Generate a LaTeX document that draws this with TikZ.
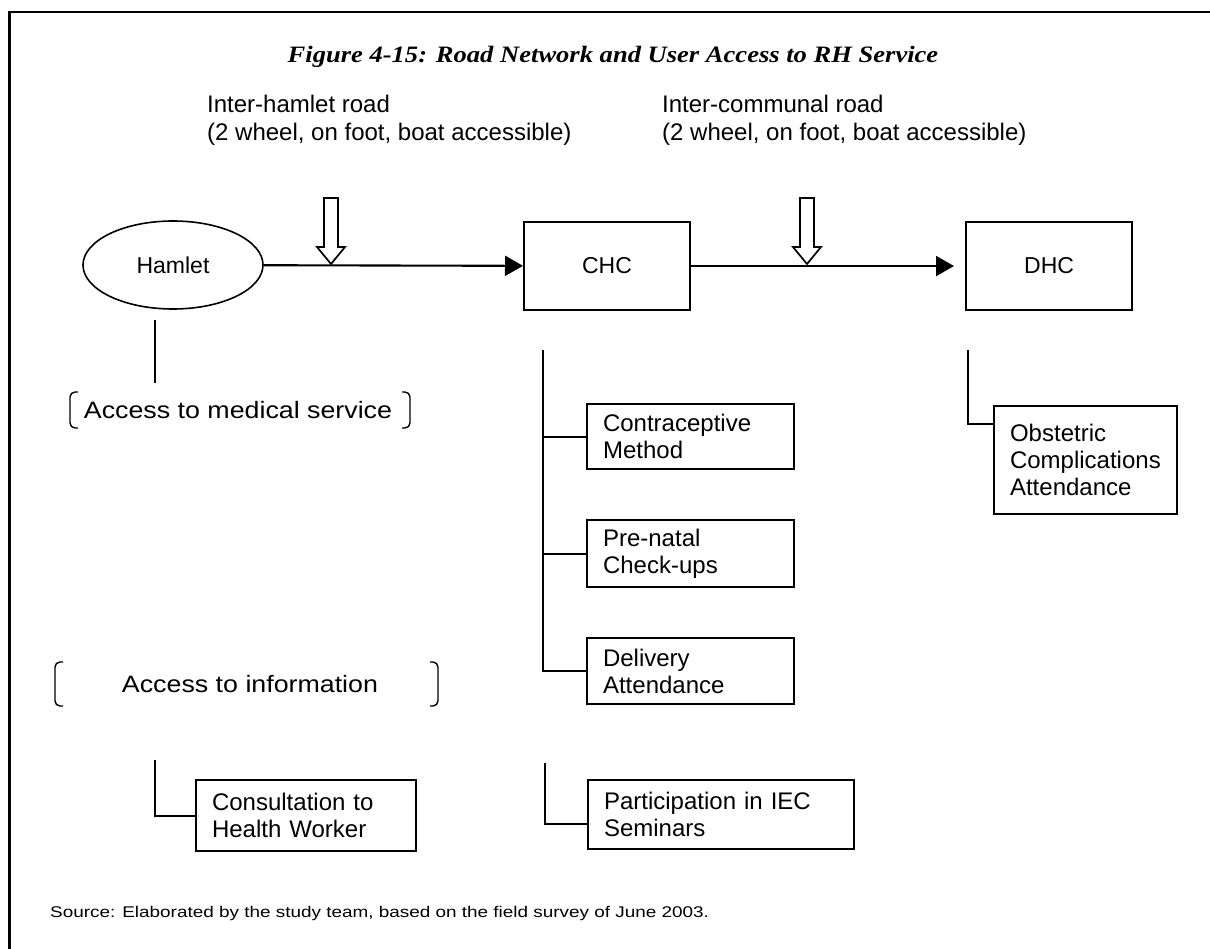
\documentclass[tikz,border=0pt]{standalone}
\usepackage{fontspec}
\setmainfont{Liberation Sans}
\newfontfamily\titlefont[FakeStretch=1.13]{Liberation Serif}
\newfontfamily\widefont[FakeStretch=1.13]{Liberation Sans}
\newfontfamily\srcfont[FakeStretch=1.22]{Liberation Sans}
\usetikzlibrary{arrows.meta,calc,shapes.geometric}
\tikzset{
  conn/.style={line width=2.1pt, black},
  flow/.style={conn, -{Triangle[length=18pt,width=20pt]}},
  box/.style={draw, line width=2.1pt, rectangle, anchor=north west, inner xsep=16pt, inner ysep=0pt,
              align=left, font=\fontsize{24}{27}\selectfont},
  bigbox/.style={draw, line width=2.1pt, rectangle, anchor=north west, minimum width=166pt, minimum height=88pt,
              font=\fontsize{23}{27}\selectfont},
  bracket/.style={line width=1.4pt, rounded corners=5pt},
  hollow/.style={line width=1.7pt, fill=white, line join=miter},
  widetext/.style={font=\widefont\fontsize{23.7}{28}\selectfont, inner sep=0pt},
  roadtext/.style={font=\fontsize{24}{28}\selectfont, align=left, anchor=west, inner sep=0pt}
}
\begin{document}
\begin{tikzpicture}[x=1pt,y=-1pt]
\useasboundingbox (0,0) rectangle (1210,949);
% frame
\draw[line width=2.8pt] (9.5,949) -- (9.5,12) -- (1210,12);
% title
\node[font=\titlefont\bfseries\itshape\fontsize{23.5}{27}\selectfont, inner sep=0pt] (title) at (613,57)
  {Figure 4-15: Road Network and User Access to RH Service};
% road labels
\node[roadtext] (road1) at (207,120) {Inter-hamlet road\\(2 wheel, on foot, boat accessible)};
\node[roadtext] (road2) at (662,120) {Inter-communal road\\(2 wheel, on foot, boat accessible)};
% main nodes
\node[draw, ellipse, line width=1.6pt, minimum width=180pt, minimum height=88pt, inner sep=0pt,
      font=\fontsize{23}{27}\selectfont] (hamlet) at (173,265) {Hamlet};
\node[bigbox] (chc) at (523,221) {CHC};
\node[bigbox] (dhc) at (965,221) {DHC};
\draw[flow] (hamlet) -- (chc);
\draw[flow, shorten >=11pt] (chc) -- (dhc);
% hollow road arrows
\coordinate (r1) at (331,265);
\coordinate (r2) at (807,265);
\foreach \r in {r1,r2}{
  \draw[hollow, shift={(\r)}] (-7,-67) -- (-7,-18) -- (-14,-18) -- (0,-1) -- (14,-18) -- (7,-18) -- (7,-67) -- cycle;
}
% access to medical service
\node[widetext] (med) at (238,410) {Access to medical service};
\draw[bracket] (78,392) -- (70,392) -- (70,428) -- (78,428);
\draw[bracket] (402,392) -- (410,392) -- (410,428) -- (402,428);
\coordinate (hs1) at (155,320);
\coordinate (hs2) at (155,383);
\draw[conn] (hs1) -- (hs2);
% CHC services
\node[box, minimum width=207pt, minimum height=65pt, text width=175pt] (contra) at (586,403) {Contraceptive\\Method};
\node[box, minimum width=207pt, minimum height=67pt, text width=175pt] (prenatal) at (586,519) {Pre-natal\\Check-ups};
\node[box, minimum width=207pt, minimum height=66pt, text width=175pt] (deliv) at (586,637) {Delivery\\Attendance};
\coordinate (cs) at (543,350);
\draw[conn] (cs) |- (deliv.west);
\draw[conn] (contra.west -| cs) -- (contra.west);
\draw[conn] (prenatal.west -| cs) -- (prenatal.west);
% DHC service
\node[box, minimum width=183pt, minimum height=108pt, text width=151pt] (obst) at (993,405) {Obstetric\\Complications\\Attendance};
\coordinate (ds) at (968,350);
\draw[conn] (ds) |- ($(obst.north west)+(0,19)$);
% access to information
\node[widetext] (info) at (250,684) {Access to information};
\draw[bracket] (63,662) -- (55,662) -- (55,706) -- (63,706);
\draw[bracket] (430,662) -- (438,662) -- (438,706) -- (430,706);
\node[box, minimum width=220pt, minimum height=71pt, text width=188pt] (cons) at (195,779) {Consultation to\\Health Worker};
\coordinate (ks) at (155,760);
\draw[conn] (ks) |- (cons.west);
\node[box, minimum width=266pt, minimum height=69pt, text width=234pt] (part) at (587,779) {Participation in IEC\\Seminars};
\coordinate (ps) at (545,763);
\draw[conn] (ps) |- ($(part.south west)+(0,-26)$);
% source
\node[font=\srcfont\fontsize{15.5}{18}\selectfont, anchor=west, inner sep=0pt] (src) at (50,913)
  {Source: Elaborated by the study team, based on the field survey of June 2003.};
\end{tikzpicture}
\end{document}
